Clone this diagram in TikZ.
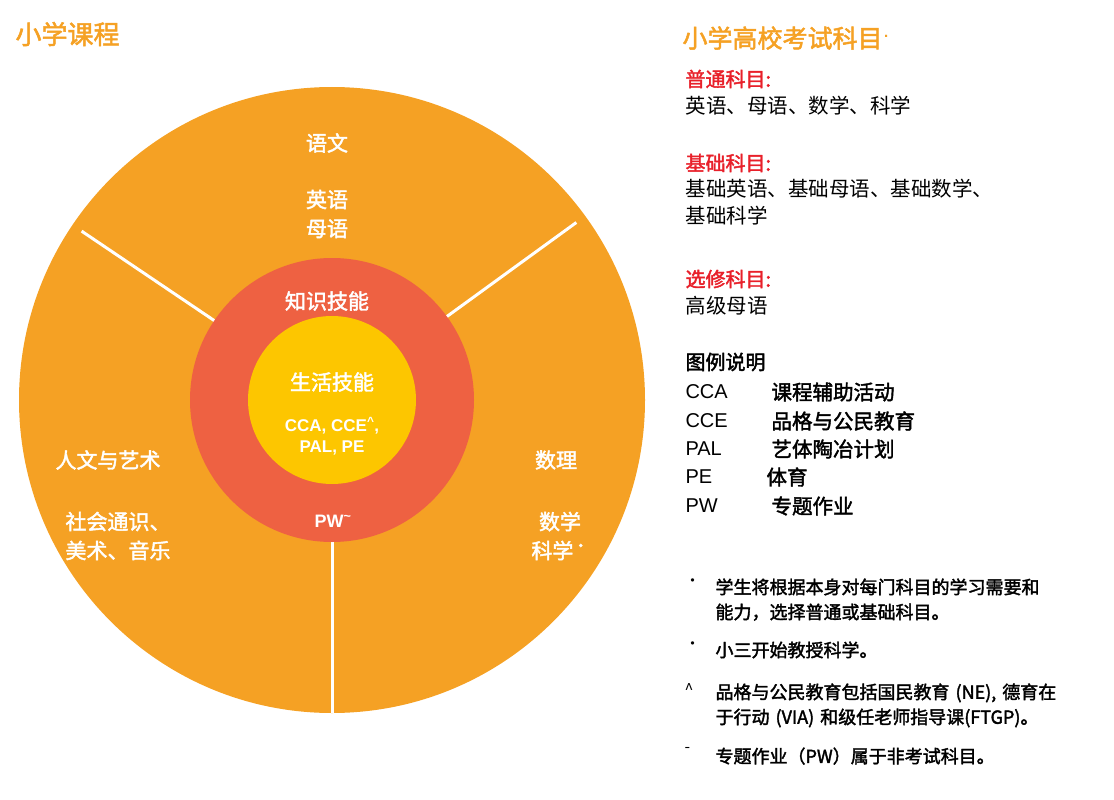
\documentclass[tikz,border=0pt]{standalone}
\usepackage{fontspec}
\setmainfont[AutoFakeBold=2]{Noto Sans CJK SC}
\newfontfamily\latin{Liberation Sans}
\definecolor{ringorange}{HTML}{F5A124}
\definecolor{ringred}{HTML}{EE6142}
\definecolor{ringyellow}{HTML}{FDC600}
\definecolor{headred}{HTML}{E8202A}
\tikzset{
  wheel/.style={text=white,font=\fontsize{21}{29}\selectfont\bfseries,align=center},
  head/.style={anchor=west,text=headred,font=\fontsize{20}{24}\selectfont\bfseries},
  body/.style={anchor=west,font=\fontsize{20.5}{27}\selectfont,align=left},
  note/.style={anchor=north west,font=\fontsize{18}{25}\selectfont\bfseries,align=left,text width=380pt},
}
\begin{document}
\begin{tikzpicture}[x=1pt,y=-1pt]
\useasboundingbox (0,0) rectangle (1114,800);
% wheel
\coordinate (o) at (332,400);
\fill[ringorange] (o) circle[radius=313];
\foreach \a/\r in {146/302,36/302,270/313}
  \draw[white,line width=3pt] (o) -- ++({cos(\a)*\r},{-sin(\a)*\r});
\fill[ringred] (o) circle[radius=142];
\fill[ringyellow] (o) circle[radius=84];
\node[anchor=west,text=ringorange,font=\fontsize{26}{30}\selectfont\bfseries] (title) at (12,34) {小学课程};
\node[wheel] (yuwen) at (327,143) {语文};
\node[wheel] (yuwensub) at (327,214) {英语\\母语};
\node[wheel] (zhishi) at (327,301) {知识技能};
\node[wheel] (shenghuo) at (332,382) {生活技能};
\node[wheel,font=\latin\fontsize{17}{21}\selectfont\bfseries] (cca) at (332,436) {CCA, CCE\textsuperscript{\^{}},\\PAL, PE};
\node[wheel,font=\latin\fontsize{18}{20}\selectfont\bfseries] (pw) at (333,521) {PW\textsuperscript{\textasciitilde}};
\node[wheel] (renwen) at (108,460) {人文与艺术};
\node[wheel] (renwensub) at (118,536) {社会通识、\\美术、音乐};
\node[wheel] (shuli) at (556,460) {数理};
\node[wheel] (shulisub) at (560,536) {数学\\科学\textsuperscript{•}};
% right column
\node[anchor=west,text=ringorange,font=\fontsize{25}{30}\selectfont\bfseries] (rtitle) at (679,38) {小学高校考试科目\textsuperscript{\scriptsize ▪}};
\node[head] (pt) at (682,79) {普通科目:};
\node[body] (ptb) at (682,106) {英语、母语、数学、科学};
\node[head] (jc) at (682,163) {基础科目:};
\node[body,anchor=north west] (jcb) at (682,176) {基础英语、基础母语、基础数学、\\基础科学};
\node[head] (xx) at (682,279) {选修科目:};
\node[body] (xxb) at (682,306) {高级母语};
\node[anchor=west,font=\fontsize{20}{24}\selectfont\bfseries] (tl) at (682,362) {图例说明};
\foreach \k/\v/\y/\x in {CCA/课程辅助活动/392/768, CCE/品格与公民教育/421/768, PAL/艺体陶冶计划/449/768, PE/体育/477/763, PW/专题作业/506/768}{
  \node[anchor=west,font=\latin\fontsize{20}{22}\selectfont] (k\k) at (682,\y) {\k};
  \node[anchor=west,font=\fontsize{20.5}{24}\selectfont\bfseries] (v\k) at (\x,\y) {\v};
}
\foreach \m/\t/\y in {•/{学生将根据本身对每门科目的学习需要和\\能力，选择普通或基础科目。}/575, •/{小三开始教授科学。}/638, \^{}/{品格与公民教育包括国民教育 (NE), 德育在\\于行动 (VIA) 和级任老师指导课(FTGP)。}/680, -/{专题作业（PW）属于非考试科目。}/744}{
  \node[anchor=north west,font=\fontsize{16}{25}\selectfont] at (681,\y) {\m};
  \node[note] at (712,\y) {\t};
}
\end{tikzpicture}
\end{document}
